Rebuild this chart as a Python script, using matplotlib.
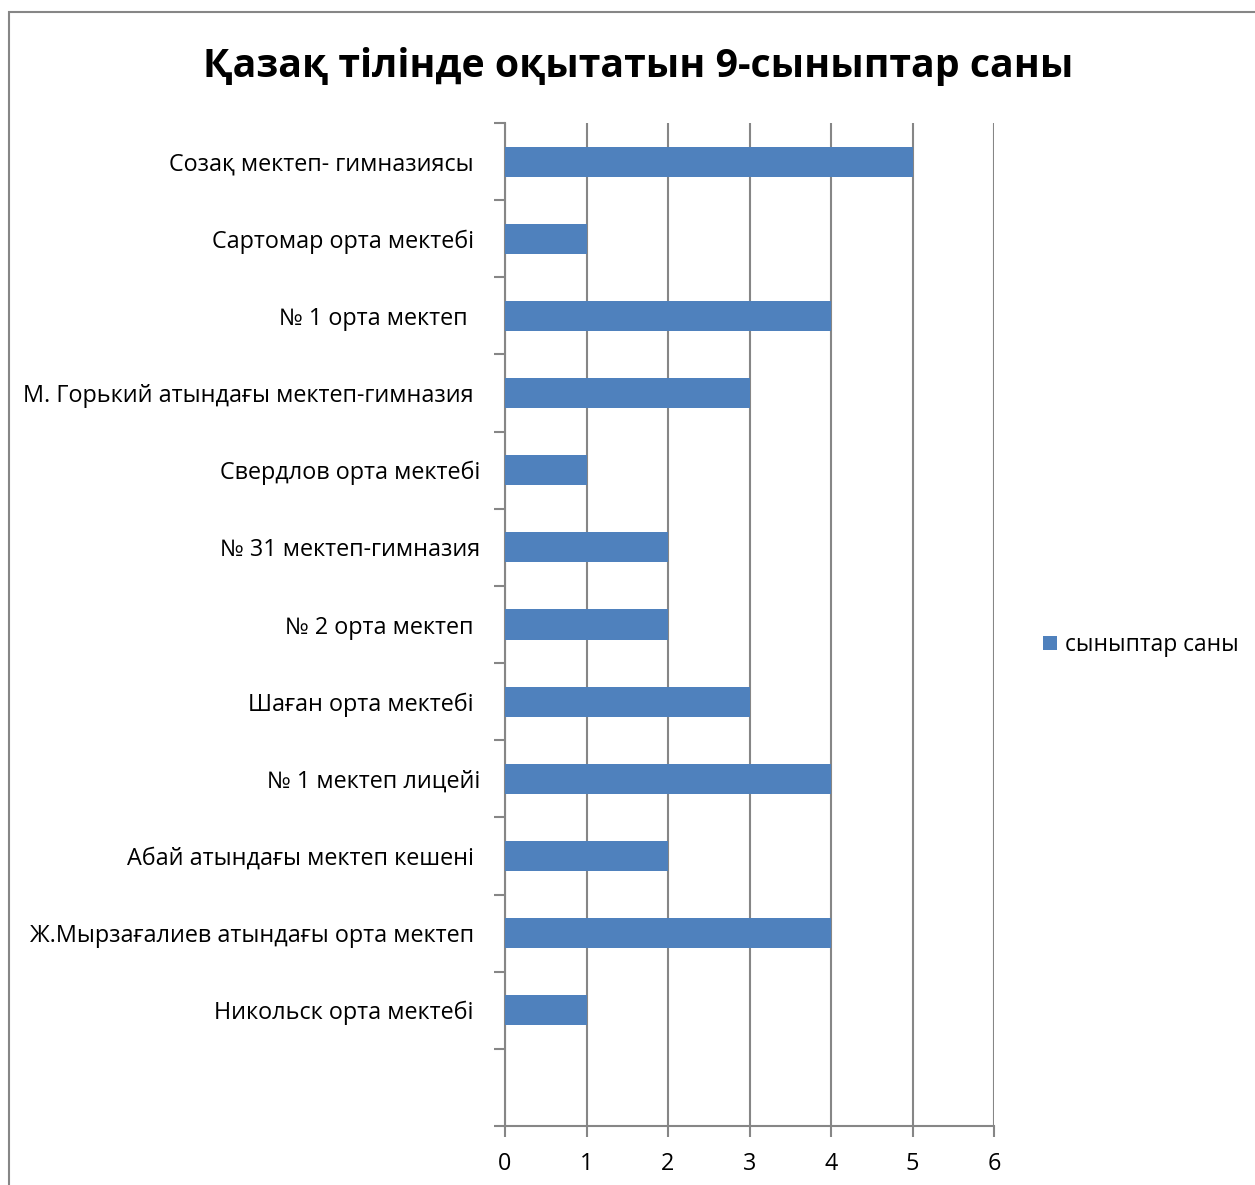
import matplotlib.pyplot as plt
from matplotlib.patches import Rectangle

plt.rcParams['font.family'] = ['Open Sans', 'Noto Sans', 'DejaVu Sans']

# categories from top to bottom (last slot is empty in the original)
schools = ["Созақ мектеп- гимназиясы ", "Сартомар орта мектебі ", "№ 1 орта мектеп  ",
           "М. Горький атындағы мектеп-гимназия ", "Свердлов орта мектебі",
           "№ 31 мектеп-гимназия", "№ 2 орта мектеп ", "Шаған орта мектебі ",
           "№ 1 мектеп лицейі", "Абай атындағы мектеп кешені ",
           "Ж.Мырзағалиев атындағы орта мектеп ", "Никольск орта мектебі ", ""]
classes = [5, 1, 4, 3, 1, 2, 2, 3, 4, 2, 4, 1, 0]
x_ticks = [0, 1, 2, 3, 4, 5, 6]

grey = '#868686'
blue = '#4F81BD'
fs = 16.8

fig = plt.figure(figsize=(12.55, 11.85), dpi=100)
ax = fig.add_axes([505 / 1255, 1 - 1126 / 1185, (994 - 505) / 1255, (1126 - 123) / 1185])

n = len(schools)
pos = [n - 1 - i + 0.5 for i in range(n)]
ax.barh(pos, classes, height=0.39, color=blue, zorder=3, label='сыныптар саны')

ax.set_ylim(0, n)
ax.set_yticks(range(n + 1))
ax.set_yticklabels([])
ax.set_yticks(pos, minor=True)
ax.set_yticklabels(schools, minor=True, fontsize=fs)
ax.tick_params(axis='y', which='minor', length=0, pad=18)
ax.tick_params(axis='y', which='major', length=8, width=1.5, color=grey, direction='out')

ax.set_xlim(0, 6)
ax.set_xticks(x_ticks)
ax.set_xticklabels([str(t) for t in x_ticks], fontsize=fs)
ax.tick_params(axis='x', length=8, width=1.5, color=grey, direction='out', pad=11)
ax.grid(axis='x', color=grey, linewidth=1.5, zorder=0)

for s in ['top', 'right']:
    ax.spines[s].set_visible(False)
for s in ['left', 'bottom']:
    ax.spines[s].set_color(grey)
    ax.spines[s].set_linewidth(1.5)

fig.text(638 / 1255, 1 - 67 / 1185, 'Қазақ тілінде оқытатын 9-сыныптар саны',
         ha='center', va='center', fontsize=28.3, fontweight='bold')

ax.legend(loc='center left', bbox_to_anchor=(1022 / 1255, 1 - 645 / 1185),
          bbox_transform=fig.transFigure, frameon=False, fontsize=16.4,
          handlelength=0.62, handleheight=0.62, handletextpad=0.35)

fig.patches.append(Rectangle((9 / 1255, -0.05), 1.1, 1 - 12 / 1185 + 0.05,
                             transform=fig.transFigure, fill=False,
                             edgecolor=grey, linewidth=1.5))

fig.savefig('out.png', dpi=100)
